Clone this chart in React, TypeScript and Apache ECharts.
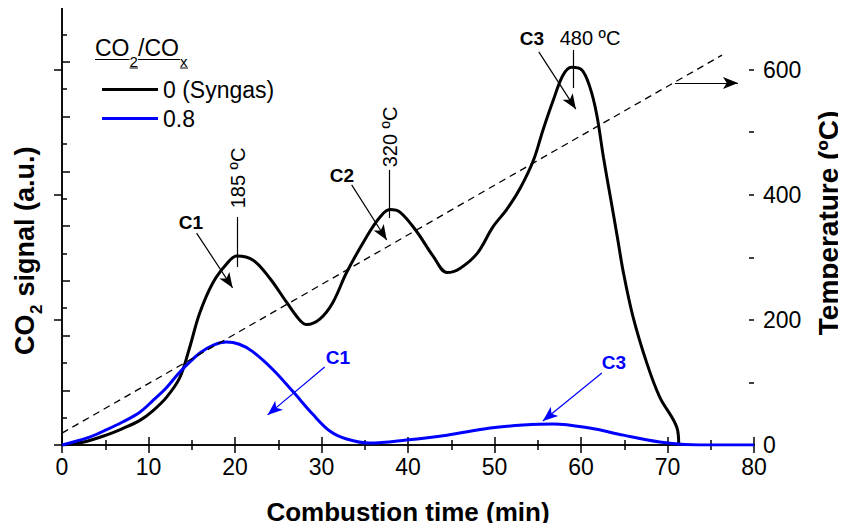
import { useEffect, useRef } from "react";
import * as echarts from "echarts";

const FONT = '"Liberation Sans", Arial, Helvetica, sans-serif';

// Combustion time (min) / CO2 signal (a.u.) for CO2/COx = 0 (Syngas)
const syngasTime = [0, 2.4, 5.1, 7, 9, 10.5, 12.1, 13.6, 14.7, 15.9, 17.4, 19.0, 20.2, 22.1, 24.0, 26.0, 27.5, 28.3, 29.8, 31.3, 32.9, 35.2, 36.7, 37.9, 39.1, 41.0, 42.9, 44.5, 46.0, 48.0, 49.8, 51.4, 53.0, 54.5, 55.6, 56.8, 57.9, 58.9, 60.1, 61.0, 61.8, 62.6, 63.4, 64.2, 64.9, 66.0, 67.6, 69.1, 71.1, 71.3];
const syngasSignal = [0, 0.1, 0.36, 0.6, 0.9, 1.25, 1.75, 2.45, 3.5, 4.8, 5.9, 6.6, 6.9, 6.75, 6.1, 5.2, 4.56, 4.4, 4.6, 5.2, 6.3, 7.6, 8.3, 8.6, 8.5, 7.8, 6.9, 6.3, 6.45, 7.0, 7.96, 8.6, 9.4, 10.4, 11.5, 12.6, 13.5, 13.8, 13.7, 13.1, 12.1, 10.5, 9.05, 7.6, 6.3, 4.7, 3.0, 1.75, 0.62, 0];

// CO2/COx = 0.8
const blueTime = [0, 1.2, 3.2, 5.1, 7, 9, 10.5, 12.1, 13.6, 15.9, 17.5, 19.0, 20.5, 22.0, 24.4, 26.7, 29.0, 31.0, 32.9, 35.6, 39.8, 44.5, 49.5, 53.3, 56.8, 61.0, 64.9, 69.1, 72.0, 76.0, 80.0];
const blueSignal = [0, 0.1, 0.29, 0.55, 0.84, 1.2, 1.62, 2.1, 2.66, 3.35, 3.65, 3.76, 3.68, 3.42, 2.75, 1.95, 1.12, 0.5, 0.22, 0.07, 0.18, 0.36, 0.62, 0.73, 0.77, 0.62, 0.36, 0.11, 0.02, 0, 0];

// Temperature ramp (ºC)
const tempTime = [0, 28.3, 56.8, 76.3];
const tempValue = [19, 243, 469, 623];

const legendNames = ["0 (Syngas)", "0.8"];
const xTickLabels = [0, 10, 20, 30, 40, 50, 60, 70, 80];
const tempTickLabels = [0, 200, 400, 600];

// annotation segments in data coordinates [t1, v1, t2, v2]
const blackArrows = [
  [15.56, 7.74, 19.72, 5.74],
  [33.49, 9.5, 37.54, 7.49],
  [55.12, 14.36, 59.4, 12.27],
  [70.86, 13.22, 78.15, 13.22],
];
const peakLeaders = [
  [20.3, 8.33, 20.3, 6.5],
  [37.89, 10.05, 37.89, 8.29],
  [59.06, 14.43, 59.06, 13.04],
];
const blueArrows = [
  [30.37, 2.85, 23.77, 1.1],
  [62.41, 2.63, 55.59, 0.88],
];

const zip = (a: number[], b: number[]) => a.map((v, i) => [v, b[i]]);

const arrowData = (segs: number[][]) =>
  segs.map((s) => [
    { coord: [s[0], s[1]], symbol: "none" },
    { coord: [s[2], s[3]], symbol: "arrow", symbolSize: [9, 15] },
  ]);
const leaderData = (segs: number[][]) =>
  segs.map((s) => [
    { coord: [s[0], s[1]], symbol: "none" },
    { coord: [s[2], s[3]], symbol: "none" },
  ]);

const txt = (
  text: string,
  x: number,
  y: number,
  size: number,
  opts: { bold?: boolean; color?: string; rot?: number; align?: string } = {}
) => ({
  type: "text",
  x,
  y,
  rotation: opts.rot || 0,
  silent: true,
  style: {
    text,
    fill: opts.color || "#000",
    font: `${opts.bold ? "bold " : ""}${size}px ${FONT}`,
    align: opts.align || "center",
    verticalAlign: "middle",
    textAlign: opts.align || "center",
    textVerticalAlign: "middle",
  },
});

const uline = (x1: number, x2: number, y: number) => ({
  type: "line",
  silent: true,
  shape: { x1, y1: y, x2, y2: y },
  style: { stroke: "#000", lineWidth: 1 },
});

export default function App() {
  const ref = useRef<HTMLDivElement>(null);
  useEffect(() => {
    if (!ref.current) return;
    const chart = echarts.init(ref.current, null, { renderer: "svg" });
    const axisLine = { show: true, lineStyle: { color: "#000", width: 1.5 } };
    const tick = (len: number) => ({ show: true, inside: true, length: len, lineStyle: { color: "#000", width: 1.5 } });
    const minor = (len: number) => ({ show: true, splitNumber: 2, length: len, lineStyle: { color: "#000", width: 1.5 } });
    const R = Math.PI / 2;
    chart.setOption({
      animation: false,
      textStyle: { fontFamily: FONT },
      grid: { left: 62, top: 7, width: 692, height: 438, containLabel: false },
      legend: {
        data: legendNames,
        orient: "vertical",
        left: 97,
        top: 73,
        itemWidth: 56,
        itemHeight: 3,
        itemGap: 6,
        icon: "rect",
        selectedMode: false,
        textStyle: { fontSize: 23, color: "#000", fontFamily: FONT },
      },
      xAxis: [
        {
          type: "value",
          min: 0,
          max: 80,
          interval: 10,
          position: "bottom",
          axisLine,
          axisTick: tick(8),
          minorTick: minor(5),
          splitLine: { show: false },
          axisLabel: {
            fontSize: 23,
            color: "#000",
            margin: 10,
            fontFamily: FONT,
            formatter: (v: number) => (xTickLabels.includes(v) ? String(v) : ""),
          },
          name: "Combustion time (min)",
          nameLocation: "middle",
          nameGap: 54,
          nameTextStyle: { fontSize: 26, fontWeight: "bold", color: "#000", fontFamily: FONT },
        },
        {
          type: "value",
          min: 0,
          max: 80,
          interval: 10,
          position: "top",
          axisLine,
          axisTick: tick(8),
          minorTick: minor(5),
          splitLine: { show: false },
          axisLabel: { show: false },
        },
      ],
      yAxis: [
        {
          type: "value",
          min: 0,
          max: 16,
          interval: 2,
          position: "left",
          axisLine,
          axisTick: tick(8),
          minorTick: minor(5),
          splitLine: { show: false },
          axisLabel: { show: false },
        },
        {
          type: "value",
          min: 0,
          max: 700,
          interval: 200,
          position: "right",
          axisLine,
          axisTick: tick(8),
          splitLine: { show: false },
          axisLabel: {
            fontSize: 23,
            color: "#000",
            margin: 9,
            fontFamily: FONT,
            formatter: (v: number) => (tempTickLabels.includes(v) ? String(v) : ""),
          },
        },
        {
          type: "value",
          min: 0,
          max: 700,
          interval: 100,
          position: "right",
          axisLine: { show: false },
          axisTick: tick(5),
          splitLine: { show: false },
          axisLabel: { show: false },
        },
      ],
      series: [
        {
          name: legendNames[0],
          type: "line",
          data: zip(syngasTime, syngasSignal),
          showSymbol: false,
          smooth: 0.35,
          color: "#000",
          lineStyle: { color: "#000", width: 3 },
          markLine: {
            silent: true,
            animation: false,
            symbol: ["none", "arrow"],
            symbolSize: 12,
            label: { show: false },
            lineStyle: { color: "#000", width: 1.2, type: "solid" },
            data: [...arrowData(blackArrows), ...leaderData(peakLeaders)],
          },
        },
        {
          name: legendNames[1],
          type: "line",
          data: zip(blueTime, blueSignal),
          showSymbol: false,
          smooth: 0.35,
          color: "#0000ff",
          lineStyle: { color: "#0000ff", width: 3 },
          markLine: {
            silent: true,
            animation: false,
            symbol: ["none", "arrow"],
            symbolSize: 12,
            label: { show: false },
            lineStyle: { color: "#0000ff", width: 1.2, type: "solid" },
            data: arrowData(blueArrows),
          },
        },
        {
          name: "Temperature",
          type: "line",
          yAxisIndex: 1,
          data: zip(tempTime, tempValue),
          showSymbol: false,
          color: "#000",
          lineStyle: { color: "#000", width: 1.3, type: [7, 5] },
        },
      ],
      graphic: [
        // legend title CO2/COx (underlined)
        txt("CO", 95, 48, 23, { align: "left" }),
        txt("2", 129.5, 61, 15, { align: "left" }),
        txt("/CO", 138, 48, 23, { align: "left" }),
        txt("x", 180, 61, 15, { align: "left" }),
        uline(95, 129.5, 59.5),
        uline(129.5, 138, 68),
        uline(138, 180, 59.5),
        uline(180, 188, 68),
        // peak labels
        txt("185 ºC", 238, 178, 20, { rot: R }),
        txt("320 ºC", 390, 137, 20, { rot: R }),
        txt("480 ºC", 590, 38, 20),
        txt("C1", 191, 222, 19, { bold: true }),
        txt("C2", 342, 175, 19, { bold: true }),
        txt("C3", 532, 38, 19, { bold: true }),
        txt("C1", 338, 357, 19, { bold: true, color: "#0000ff" }),
        txt("C3", 614, 362, 19, { bold: true, color: "#0000ff" }),
        // left axis title
        txt("CO", 25, 355, 27, { bold: true, rot: R, align: "left" }),
        txt("2", 36, 314, 17, { bold: true, rot: R, align: "left" }),
        txt(" signal (a.u.)", 25, 304, 27, { bold: true, rot: R, align: "left" }),
        // right axis title
        txt("Temperature (ºC)", 828, 223, 28, { bold: true, rot: R }),
      ],
    });
    return () => chart.dispose();
  }, []);
  return <div ref={ref} style={{ width: 846, height: 531, margin: -8 }} />;
}
